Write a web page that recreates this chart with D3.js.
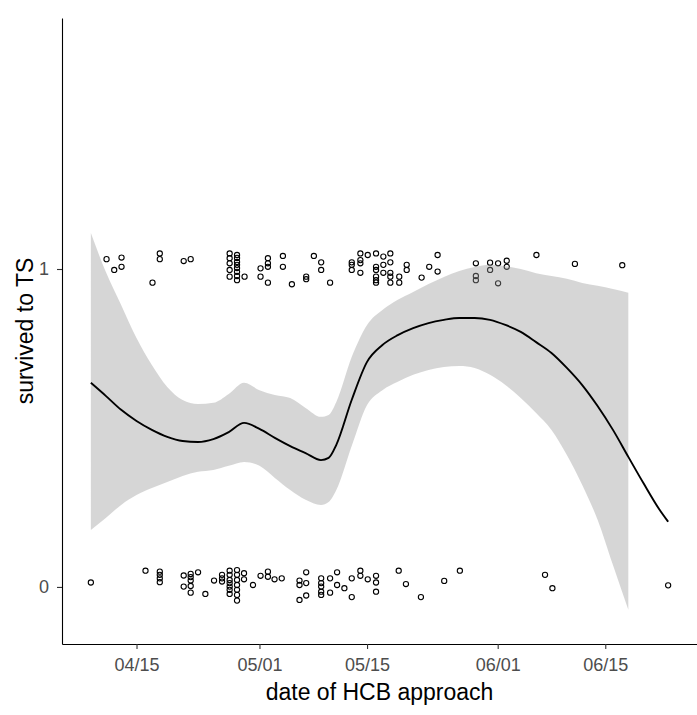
<!DOCTYPE html>
<html>
<head>
<meta charset="utf-8">
<script src="https://cdn.jsdelivr.net/npm/d3@7"></script>
<style>
  html, body { margin: 0; padding: 0; background: #ffffff; }
  svg { display: block; font-family: "Liberation Sans", Arial, sans-serif; }
</style>
</head>
<body>
<svg id="chart" width="697" height="715"></svg>
<script>
const YEAR = 2017;

// Individual fish: [day of year of HCB approach, jittered survival outcome]
const survivedPts = [
  [101.10,1.031],[103.05,1.036],[102.10,0.997],[103.05,1.007],[108.03,1.049],[108.03,1.031],[107.08,0.957],
  [111.14,1.025],[112.05,1.031],
  [117.12,1.049],[117.12,1.034],[117.12,1.018],[117.12,0.997],[117.12,0.976],
  [118.08,1.044],[118.08,1.035],[118.08,1.022],[118.08,1.013],[118.08,1.003],[118.08,0.991],[118.08,0.978],[118.08,0.965],
  [119.06,0.976],[121.14,1.002],[121.14,0.976],[122.10,1.034],[122.10,1.018],[122.10,1.007],[122.10,0.957],
  [124.05,1.041],[124.05,1.007],[128.08,1.041],[129.03,1.021],[129.03,0.997],[125.22,0.952],[127.08,0.976],
  [127.08,0.968],[130.19,0.957],
  [133.01,1.021],[133.01,1.013],[133.01,0.997],[134.13,1.049],[134.13,1.028],[134.13,1.018],[134.13,0.988],
  [135.09,1.044],
  [136.17,1.049],[136.17,1.007],[136.17,0.997],[136.17,0.976],[136.17,0.965],[136.17,0.957],
  [137.12,1.039],[137.12,1.013],[137.12,0.988],[138.03,1.049],[138.03,1.021],[138.03,0.988],[138.03,0.976],
  [138.03,0.957],
  [139.19,0.976],[139.19,0.957],[140.16,1.013],[140.16,0.997],[142.10,0.973],[143.09,1.007],[144.18,1.044],
  [144.18,0.992],
  [149.16,1.018],[149.16,0.978],[149.16,0.965],[151.01,1.020],[151.01,0.997],[152.05,1.018],[153.18,1.026],
  [153.18,1.007],[152.05,0.955],
  [157.04,1.044],[162.05,1.016],[168.21,1.012]
];

const diedPts = [
  [99.06,0.014],[106.17,0.051],[108.03,0.048],[108.03,0.038],[108.03,0.027],[108.03,0.015],
  [111.14,0.036],[111.14,0.001],[112.05,0.041],[112.05,0.031],[112.05,0.020],[112.05,0.003],[112.05,-0.018],
  [113.01,0.046],[113.96,-0.022],[115.09,0.020],[116.13,0.038],[116.13,0.027],[116.13,0.017],
  [117.12,0.051],[117.12,0.038],[117.12,0.022],[117.12,0.012],[117.12,0.001],[117.12,-0.009],[117.12,-0.022],
  [118.08,0.053],[118.08,0.038],[118.08,0.022],[118.08,0.006],[118.08,-0.009],[118.08,-0.025],[118.08,-0.043],
  [118.99,0.043],[118.99,0.024],[120.16,0.006],[121.14,0.035],[122.10,0.048],[122.10,0.032],[122.96,0.024],
  [123.90,0.027],
  [126.21,0.020],[126.21,0.006],[126.21,-0.041],[127.08,0.046],[127.08,0.012],[127.08,-0.027],
  [129.03,0.027],[129.03,0.012],[129.03,0.001],[129.03,-0.015],[129.03,-0.025],
  [130.19,0.027],[130.19,-0.018],[131.10,0.046],[131.10,0.006],[132.05,-0.004],[133.01,0.027],[133.01,-0.032],
  [134.13,0.051],[134.13,0.035],[135.09,0.024],[136.17,0.035],[136.17,0.014],[136.17,-0.015],
  [139.12,0.051],[140.06,0.009],[142.01,-0.032],[145.04,0.019],[147.08,0.051],[158.16,0.038],[159.12,-0.004],
  [174.18,0.005]
];

// Loess smooth of survival on approach date, with its confidence band
const fitDay  = [99.06,101,103,105,107,109,111,113,115,117,119,121,123,125,127,129,130,131,133,135,
                 137,139,141,143,145,147,149,151,153,155,157,159,161,163,165,167,169,171,173,174.18];
const fitVal  = [0.642,0.601,0.557,0.522,0.494,0.472,0.459,0.456,0.465,0.487,0.516,0.497,0.469,0.443,0.421,
                 0.399,0.406,0.447,0.588,0.708,0.761,0.792,0.814,0.830,0.840,0.846,0.846,0.840,0.824,0.802,
                 0.770,0.736,0.689,0.635,0.569,0.494,0.409,0.325,0.245,0.205];
const fitLow  = [0.179,0.217,0.258,0.289,0.311,0.330,0.349,0.362,0.368,0.381,0.393,0.381,0.343,0.305,0.274,
                 0.258,0.267,0.305,0.443,0.572,0.619,0.645,0.667,0.682,0.692,0.695,0.689,0.667,0.635,0.594,
                 0.547,0.494,0.415,0.321,0.211,0.069,-0.072,-0.33,-0.53,-0.62];
const fitHigh = [1.113,0.991,0.887,0.783,0.698,0.629,0.588,0.575,0.579,0.607,0.642,0.619,0.604,0.594,0.563,
                 0.535,0.541,0.582,0.723,0.824,0.871,0.903,0.928,0.953,0.975,0.994,1.006,1.013,1.009,1.000,
                 0.987,0.978,0.969,0.956,0.947,0.937,0.925,0.98,1.0,1.03];

const xTickLabels = ["04/15", "05/01", "05/15", "06/01", "06/15"];
const yTickValues = [0, 1];
const yLimits = [-0.09, 1.70];

const xTitle = "date of HCB approach";
const yTitle = "survived to TS";

// ---- helpers ----
const DAY_MS = 864e5;
const dayToDate = doy => new Date(Date.UTC(YEAR, 0, 1) + (doy - 1) * DAY_MS);
const labelToDate = s => { const [m, d] = s.split("/").map(Number); return new Date(Date.UTC(YEAR, m - 1, d)); };

// ---- layout ----
const panel = { left: 62, right: 697, top: 18, bottom: 644 };

const svg = d3.select("#chart");

// x domain: data range padded by 5% on each side
const allDays = survivedPts.map(d => d[0]).concat(diedPts.map(d => d[0]), fitDay);
const [dMin, dMax] = d3.extent(allDays);
const dPad = (dMax - dMin) * 0.05;
const x = d3.scaleUtc()
  .domain([dayToDate(dMin - dPad), dayToDate(dMax + dPad)])
  .range([panel.left, panel.right]);

const yPad = (yLimits[1] - yLimits[0]) * 0.05;
const y = d3.scaleLinear()
  .domain([yLimits[0] - yPad, yLimits[1] + yPad])
  .range([panel.bottom, panel.top]);

const smooth = fitDay.map((d, i) => ({ date: dayToDate(d), fit: fitVal[i], lo: fitLow[i], hi: fitHigh[i] }));

// points
const pts = survivedPts.concat(diedPts);
svg.append("g")
  .selectAll("circle")
  .data(pts)
  .join("circle")
  .attr("cx", d => x(dayToDate(d[0])))
  .attr("cy", d => y(d[1]))
  .attr("r", 2.6)
  .attr("fill", "none")
  .attr("stroke", "#000")
  .attr("stroke-width", 1.1);

// confidence band (dropped where it leaves the y limits)
const band = d3.area()
  .defined(d => d.lo >= yLimits[0] && d.hi <= yLimits[1])
  .x(d => x(d.date))
  .y0(d => y(d.lo))
  .y1(d => y(d.hi))
  .curve(d3.curveMonotoneX);

svg.append("path")
  .datum(smooth)
  .attr("d", band)
  .attr("fill", "#999999")
  .attr("fill-opacity", 0.4);

// fitted line
const line = d3.line()
  .x(d => x(d.date))
  .y(d => y(d.fit))
  .curve(d3.curveMonotoneX);

svg.append("path")
  .datum(smooth)
  .attr("d", line)
  .attr("fill", "none")
  .attr("stroke", "#000")
  .attr("stroke-width", 1.9);

// axes
const xAxis = d3.axisBottom(x)
  .tickValues(xTickLabels.map(labelToDate))
  .tickFormat(d3.utcFormat("%m/%d"))
  .tickSize(5)
  .tickSizeOuter(0)
  .tickPadding(9);

const yAxis = d3.axisLeft(y)
  .tickValues(yTickValues)
  .tickFormat(d3.format("d"))
  .tickSize(5)
  .tickSizeOuter(0)
  .tickPadding(8);

function styleAxis(g) {
  g.select(".domain").attr("stroke", "#000").attr("stroke-width", 1.1);
  g.selectAll(".tick line").attr("stroke", "#333").attr("stroke-width", 1.1);
  g.selectAll(".tick text").attr("fill", "#4D4D4D").style("font-size", "18px")
    .style("font-family", "'Liberation Sans', Arial, sans-serif");
}

svg.append("g")
  .attr("transform", `translate(0,${panel.bottom})`)
  .call(xAxis)
  .call(styleAxis);

svg.append("g")
  .attr("transform", `translate(${panel.left},0)`)
  .call(yAxis)
  .call(styleAxis);

// axis titles
svg.append("text")
  .attr("x", (panel.left + panel.right) / 2)
  .attr("y", 700)
  .attr("text-anchor", "middle")
  .attr("fill", "#000")
  .style("font-size", "23px")
  .text(xTitle);

svg.append("text")
  .attr("transform", `translate(33,${(panel.top + panel.bottom) / 2}) rotate(-90)`)
  .attr("text-anchor", "middle")
  .attr("fill", "#000")
  .style("font-size", "23px")
  .text(yTitle);
</script>
</body>
</html>
